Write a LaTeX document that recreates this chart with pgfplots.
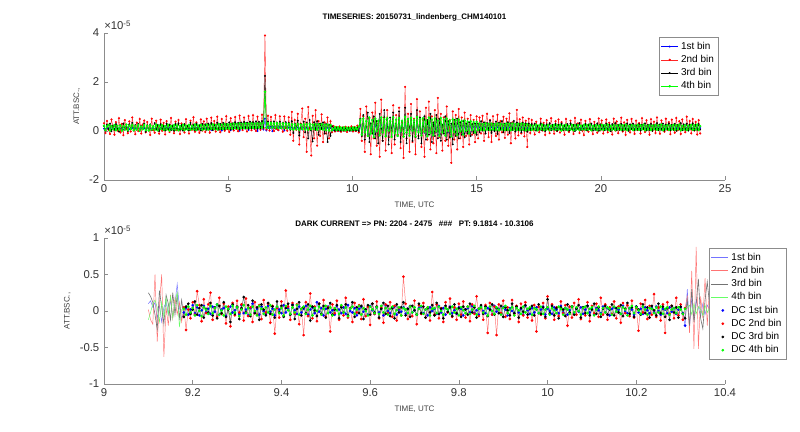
\documentclass[border=0pt]{standalone}
\usepackage{fontspec}
\setmainfont{Liberation Sans}
\usepackage{pgfplots}
\usepackage{pgfplotstable}
\pgfplotsset{compat=1.18}

% time series, values in units of 1e-5
\pgfplotstableread{
t b1 b2 b3 b4
0.00 0.10 0.32 0.20 0.22
0.06 0.07 -0.08 0.03 0.04
0.12 0.13 0.41 0.26 0.18
0.18 0.09 0.05 0.08 0.25
0.24 0.11 -0.12 0.30 0.02
0.30 0.06 0.47 -0.01 0.20
0.36 0.12 0.18 0.22 0.07
0.42 0.08 -0.15 0.05 0.24
0.48 0.14 0.36 0.28 0.03
0.54 0.07 0.02 0.10 0.21
0.60 0.11 0.52 -0.02 0.06
0.66 0.09 -0.06 0.25 0.23
0.72 0.13 0.29 0.04 0.01
0.78 0.06 -0.17 0.31 0.19
0.84 0.12 0.44 0.07 0.05
0.90 0.08 0.11 0.19 0.26
0.96 0.14 -0.09 0.00 0.04
1.02 0.07 0.39 0.27 0.22
1.08 0.10 -0.02 0.09 0.08
1.14 0.13 0.55 0.33 0.25
1.20 0.05 0.07 0.02 0.03
1.26 0.12 -0.13 0.24 0.20
1.32 0.09 0.34 0.06 0.06
1.38 0.11 0.00 0.29 0.24
1.44 0.06 0.49 0.01 0.02
1.50 0.13 -0.10 0.21 0.18
1.56 0.08 0.26 0.08 0.07
1.62 0.12 0.43 0.30 0.25
1.68 0.07 -0.05 -0.03 0.04
1.74 0.14 0.37 0.23 0.21
1.80 0.09 0.09 0.05 0.02
1.86 0.11 -0.16 0.27 0.23
1.92 0.06 0.50 0.03 0.06
1.98 0.13 0.04 0.18 0.19
2.04 0.08 -0.07 0.32 0.05
2.10 0.12 0.42 0.06 0.26
2.16 0.10 0.15 0.25 0.03
2.22 0.05 -0.11 0.00 0.22
2.28 0.13 0.46 0.28 0.08
2.34 0.08 0.01 0.09 0.24
2.40 0.11 0.33 0.20 0.04
2.46 0.07 -0.14 0.02 0.20
2.52 0.14 0.40 0.30 0.06
2.58 0.09 0.06 0.07 0.25
2.64 0.12 -0.04 0.26 0.02
2.70 0.06 0.53 0.04 0.21
2.76 0.13 0.12 0.22 0.07
2.82 0.08 -0.09 0.01 0.24
2.88 0.11 0.38 0.29 0.05
2.94 0.10 0.03 0.10 0.23
3.00 0.07 0.45 0.31 0.03
3.06 0.14 -0.12 0.05 0.20
3.12 0.09 0.31 0.24 0.08
3.18 0.12 0.08 0.02 0.26
3.24 0.06 -0.06 0.28 0.04
3.30 0.13 0.48 0.08 0.22
3.36 0.08 0.14 0.21 0.06
3.42 0.11 -0.10 0.03 0.25
3.48 0.10 0.42 0.33 0.05
3.54 0.07 0.05 0.09 0.21
3.60 0.14 0.56 0.26 0.07
3.66 0.09 -0.03 0.04 0.26
3.72 0.12 0.35 0.30 0.04
3.78 0.06 0.10 0.06 0.23
3.84 0.13 -0.08 0.23 0.08
3.90 0.08 0.47 0.02 0.25
3.96 0.12 0.02 0.29 0.05
4.02 0.10 0.39 0.08 0.22
4.08 0.07 -0.04 0.27 0.07
4.14 0.14 0.50 0.05 0.26
4.20 0.09 0.13 0.30 0.06
4.26 0.12 -0.07 0.08 0.24
4.32 0.04 0.54 0.32 0.09
4.38 0.13 0.06 0.04 0.27
4.44 0.10 0.41 0.25 0.08
4.50 0.15 -0.02 0.10 0.25
4.56 0.08 0.58 0.34 0.06
4.62 0.13 0.10 0.06 0.28
4.68 0.11 -0.05 0.29 0.09
4.74 0.02 0.49 0.09 0.26
4.80 0.15 0.17 0.33 0.08
4.86 0.10 0.01 0.07 0.29
4.92 0.14 0.60 0.28 0.10
4.98 0.09 0.08 0.11 0.27
5.04 0.15 -0.04 0.35 0.09
5.10 0.03 0.52 0.06 0.28
5.16 0.14 0.14 0.31 0.10
5.22 0.11 0.02 0.09 0.30
5.28 0.16 0.57 0.36 0.11
5.34 0.09 0.09 0.12 0.28
5.40 0.15 -0.01 0.33 0.10
5.46 0.01 0.63 0.08 0.31
5.52 0.16 0.19 0.35 0.12
5.58 0.12 0.04 0.10 0.29
5.64 0.17 0.55 0.37 0.11
5.70 0.10 0.12 0.13 0.31
5.76 0.16 -0.02 0.34 0.12
5.82 0.04 0.61 0.09 0.30
5.88 0.17 0.16 0.38 0.13
5.94 0.12 0.03 0.12 0.32
6.00 0.18 0.64 0.36 0.12
6.06 0.08 0.10 0.14 0.30
6.12 0.17 0.00 0.39 0.13
6.18 0.00 0.58 0.10 0.32
6.24 0.18 0.20 0.37 0.14
6.30 0.13 0.05 0.13 0.31
6.36 0.18 0.66 0.40 0.13
6.42 0.06 0.11 0.15 0.33
6.48 0.50 3.90 2.25 1.60
6.54 0.02 0.06 0.12 0.14
6.60 0.17 0.62 0.38 0.32
6.66 0.10 0.02 0.11 0.12
6.72 0.18 0.57 0.36 0.33
6.78 -0.01 0.14 0.14 0.13
6.84 0.17 0.00 0.39 0.31
6.90 0.12 0.65 0.10 0.14
6.96 0.16 0.09 0.35 0.32
7.02 0.03 0.04 0.13 0.12
7.08 0.17 0.60 0.38 0.30
7.14 0.11 0.15 0.11 0.13
7.20 0.16 -0.03 0.34 0.31
7.26 0.02 0.59 0.09 0.12
7.32 0.16 0.12 0.36 0.30
7.38 0.10 0.01 0.12 0.11
7.44 0.15 0.56 0.33 0.29
7.50 0.06 -0.15 0.05 0.08
7.56 0.15 0.78 0.40 0.28
7.62 0.08 -0.40 -0.08 0.06
7.68 0.14 0.45 0.30 0.27
7.74 0.07 0.05 0.12 0.07
7.80 0.15 0.70 0.42 0.29
7.86 0.09 -0.55 -0.18 0.05
7.92 0.14 0.30 0.28 0.26
7.98 0.06 0.92 0.10 0.08
8.04 0.15 -0.25 0.38 0.28
8.10 0.08 0.50 -0.05 0.06
8.16 0.14 -0.85 0.33 0.27
8.22 0.07 0.98 -0.30 0.05
8.28 0.15 0.10 0.45 0.29
8.34 0.09 -1.00 0.02 0.07
8.40 0.14 0.62 -0.42 0.26
8.46 0.06 -0.30 0.36 0.08
8.52 0.15 0.85 0.05 0.28
8.58 0.08 -0.60 0.40 0.05
8.64 0.14 0.40 -0.15 0.27
8.70 0.07 -0.20 0.30 0.07
8.76 0.15 0.68 0.08 0.28
8.82 0.09 -0.45 0.35 0.06
8.88 0.13 0.35 -0.10 0.25
8.94 0.06 -0.10 0.28 0.04
9.00 0.14 0.55 -0.45 0.26
9.06 0.05 -0.30 0.25 0.02
9.12 0.13 0.40 -0.20 0.24
9.18 0.06 -0.05 0.20 0.03
9.24 0.04 0.20 0.12 0.08
9.30 0.08 -0.02 0.02 0.16
9.36 0.03 0.16 0.13 0.04
9.42 0.07 0.00 0.03 0.15
9.48 0.02 0.18 0.11 0.05
9.54 0.06 -0.03 0.01 0.14
9.60 0.03 0.14 0.12 0.04
9.66 0.07 0.01 0.02 0.15
9.72 0.02 0.17 0.10 0.03
9.78 0.06 -0.04 0.03 0.14
9.84 0.03 0.15 0.12 0.05
9.90 0.07 0.02 0.01 0.13
9.96 0.02 0.19 0.11 0.04
10.02 0.06 -0.02 0.03 0.15
10.08 0.03 0.16 0.13 0.05
10.14 0.07 0.00 0.02 0.14
10.20 0.04 0.22 0.14 0.06
10.26 0.08 -0.06 0.00 0.18
10.32 0.25 0.90 0.50 0.45
10.38 -0.10 -0.40 -0.20 -0.15
10.44 0.30 0.60 0.65 0.50
10.50 -0.05 -0.85 -0.35 -0.05
10.56 0.20 1.00 0.20 0.40
10.62 -0.12 -0.20 0.75 -0.20
10.68 0.32 0.50 -0.45 0.55
10.74 0.00 -0.95 0.30 -0.10
10.80 0.25 0.75 -0.10 0.45
10.86 -0.15 -0.30 0.60 -0.25
10.92 0.28 1.15 -0.30 0.50
10.98 -0.05 -0.60 0.40 0.00
11.04 0.22 0.30 -0.50 0.42
11.10 -0.10 -1.05 0.70 -0.18
11.16 0.33 1.28 0.10 0.55
11.22 0.02 -0.40 -0.40 -0.05
11.28 0.26 0.55 0.85 0.48
11.34 -0.13 -0.80 -0.20 -0.22
11.40 0.30 0.85 0.45 0.52
11.46 -0.08 -0.25 -0.55 0.02
11.52 0.24 0.40 0.55 0.40
11.58 -0.16 -0.90 0.00 -0.24
11.64 0.31 1.05 0.75 0.56
11.70 0.00 -0.55 -0.35 -0.08
11.76 0.27 0.65 0.30 0.46
11.82 -0.12 -0.15 -0.20 -0.20
11.88 0.29 0.95 0.80 0.53
11.94 -0.06 -0.70 -0.45 0.00
12.00 0.23 0.35 0.40 0.41
12.06 -0.14 -1.10 -0.10 -0.23
12.12 0.34 1.80 0.95 0.58
12.18 0.01 -0.30 -0.50 -0.06
12.24 0.28 0.70 0.50 0.49
12.30 -0.10 -0.85 0.05 -0.19
12.36 0.30 1.10 0.70 0.54
12.42 -0.04 -0.45 -0.40 0.01
12.48 0.25 0.50 0.35 0.44
12.54 -0.15 -0.95 -0.25 -0.22
12.60 0.32 1.30 0.85 0.57
12.66 0.02 -0.20 -0.30 -0.04
12.72 0.26 0.80 0.55 0.47
12.78 -0.11 -0.65 -0.50 -0.18
12.84 0.29 0.45 0.20 0.52
12.90 -0.07 -1.05 0.60 -0.02
12.96 0.24 0.95 -0.35 0.43
13.02 -0.13 -0.35 0.45 -0.21
13.08 0.31 1.20 -0.15 0.55
13.14 0.00 -0.75 0.70 -0.07
13.20 0.27 0.60 -0.45 0.46
13.26 -0.09 -0.50 0.35 -0.17
13.32 0.28 0.85 -0.20 0.51
13.38 -0.05 -0.90 0.65 0.00
13.44 0.23 1.35 -0.30 0.42
13.50 -0.14 -0.25 0.50 -0.20
13.56 0.30 0.70 -0.40 0.53
13.62 0.01 -0.80 0.25 -0.05
13.68 0.25 0.55 -0.10 0.45
13.74 -0.12 -0.40 0.60 -0.19
13.80 0.28 1.00 -0.35 0.50
13.86 -0.06 -0.60 0.40 0.01
13.92 0.22 0.45 -0.25 0.41
13.98 -0.15 -1.30 0.30 -0.22
14.04 0.27 0.80 -0.55 0.47
14.10 0.00 -0.35 0.45 -0.04
14.16 0.24 0.65 -0.20 0.43
14.22 -0.10 -0.75 0.50 -0.16
14.28 0.26 0.90 -0.30 0.46
14.34 -0.04 -0.30 0.35 0.00
14.40 0.21 0.55 -0.15 0.40
14.46 -0.11 -0.65 0.40 -0.14
14.52 0.23 0.75 -0.25 0.42
14.58 -0.03 -0.20 0.30 0.02
14.64 0.20 0.50 -0.10 0.38
14.70 -0.08 -0.55 0.35 -0.10
14.76 0.22 0.65 -0.20 0.39
14.82 0.00 -0.15 0.28 0.04
14.88 0.19 0.45 -0.08 0.36
14.94 -0.05 -0.45 0.30 -0.06
15.00 0.20 0.60 -0.15 0.37
15.06 0.05 -0.30 0.30 0.04
15.12 0.16 0.55 -0.05 0.30
15.18 0.07 -0.10 0.40 0.05
15.24 0.15 0.62 0.02 0.28
15.30 0.04 -0.40 0.35 0.03
15.36 0.17 0.30 -0.10 0.31
15.42 0.08 0.70 0.32 0.06
15.48 0.14 -0.25 0.05 0.29
15.54 0.06 0.45 0.42 0.04
15.60 0.16 -0.45 -0.08 0.30
15.66 0.05 0.60 0.30 0.06
15.72 0.15 0.05 0.00 0.28
15.78 0.07 -0.20 0.38 0.05
15.84 0.16 0.66 -0.12 0.30
15.90 0.04 -0.35 0.33 0.03
15.96 0.15 0.40 0.06 0.29
16.02 0.08 -0.05 0.40 0.06
16.08 0.14 0.58 -0.05 0.27
16.14 0.05 -0.28 0.30 0.04
16.20 0.16 0.50 0.03 0.30
16.26 0.07 -0.15 0.36 0.05
16.32 0.15 0.72 -0.08 0.29
16.38 0.04 -0.50 0.32 0.03
16.44 0.16 0.35 0.05 0.30
16.50 0.08 0.10 0.41 0.06
16.56 0.14 -0.30 -0.02 0.28
16.62 0.06 0.86 0.35 0.05
16.68 0.15 -0.18 0.04 0.29
16.74 0.05 0.48 0.30 0.04
16.80 0.16 -0.10 -0.05 0.30
16.86 0.07 0.55 0.33 0.06
16.92 0.15 -0.22 0.02 0.28
16.98 0.04 0.42 0.31 0.03
17.04 0.14 -0.65 -0.03 0.27
17.10 0.06 0.50 0.30 0.05
17.16 0.13 -0.08 0.05 0.24
17.22 0.08 0.45 0.28 0.04
17.28 0.12 0.06 0.08 0.22
17.34 0.07 -0.14 0.30 0.06
17.40 0.14 0.38 0.02 0.25
17.46 0.09 0.12 0.22 0.03
17.52 0.11 -0.05 0.06 0.23
17.58 0.06 0.50 0.31 0.07
17.64 0.13 0.02 0.04 0.26
17.70 0.08 0.33 0.25 0.04
17.76 0.12 -0.16 0.00 0.21
17.82 0.10 0.44 0.27 0.06
17.88 0.07 0.08 0.09 0.24
17.94 0.14 -0.09 0.32 0.03
18.00 0.09 0.52 0.03 0.22
18.06 0.12 0.15 0.24 0.07
18.12 0.06 -0.11 0.06 0.25
18.18 0.13 0.40 0.29 0.05
18.24 0.08 0.00 0.01 0.23
18.30 0.11 0.47 0.26 0.06
18.36 0.10 -0.06 0.08 0.24
18.42 0.07 0.36 0.30 0.02
18.48 0.14 0.10 0.04 0.22
18.54 0.09 -0.15 0.23 0.07
18.60 0.12 0.49 0.05 0.26
18.66 0.06 0.04 0.28 0.04
18.72 0.13 -0.04 0.02 0.21
18.78 0.08 0.42 0.31 0.06
18.84 0.11 0.13 0.07 0.25
18.90 0.10 -0.12 0.25 0.03
18.96 0.07 0.53 0.00 0.23
19.02 0.14 0.07 0.27 0.06
19.08 0.09 0.31 0.09 0.24
19.14 0.12 -0.08 0.32 0.04
19.20 0.06 0.46 0.04 0.22
19.26 0.13 0.01 0.22 0.07
19.32 0.08 -0.17 0.06 0.25
19.38 0.11 0.41 0.29 0.05
19.44 0.10 0.11 0.03 0.23
19.50 0.07 -0.03 0.26 0.06
19.56 0.14 0.48 0.08 0.26
19.62 0.09 0.05 0.30 0.03
19.68 0.12 -0.13 0.02 0.21
19.74 0.06 0.37 0.24 0.07
19.80 0.13 0.14 0.05 0.24
19.86 0.08 -0.07 0.31 0.04
19.92 0.11 0.51 0.01 0.22
19.98 0.10 0.03 0.27 0.06
20.04 0.07 0.43 0.07 0.25
20.10 0.14 -0.10 0.23 0.05
20.16 0.09 0.18 0.04 0.23
20.22 0.12 0.47 0.30 0.07
20.28 0.06 -0.05 0.06 0.26
20.34 0.13 0.34 0.26 0.03
20.40 0.08 0.09 0.00 0.21
20.46 0.11 -0.14 0.28 0.06
20.52 0.10 0.50 0.09 0.24
20.58 0.07 0.02 0.32 0.04
20.64 0.14 0.39 0.03 0.22
20.70 0.09 -0.09 0.25 0.07
20.76 0.12 0.12 0.05 0.25
20.82 0.06 0.54 0.29 0.05
20.88 0.13 -0.02 0.02 0.23
20.94 0.08 0.35 0.24 0.06
21.00 0.11 -0.16 0.07 0.26
21.06 0.10 0.45 0.31 0.03
21.12 0.07 0.06 0.01 0.21
21.18 0.14 -0.06 0.27 0.07
21.24 0.09 0.49 0.08 0.24
21.30 0.12 0.10 0.30 0.04
21.36 0.06 -0.12 0.04 0.22
21.42 0.13 0.42 0.23 0.06
21.48 0.08 0.04 0.06 0.25
21.54 0.11 0.32 0.28 0.05
21.60 0.10 -0.10 0.02 0.23
21.66 0.07 0.52 0.26 0.07
21.72 0.14 0.08 0.09 0.26
21.78 0.09 -0.04 0.31 0.03
21.84 0.12 0.44 0.03 0.21
21.90 0.06 0.13 0.25 0.06
21.96 0.13 -0.15 0.05 0.24
22.02 0.08 0.48 0.29 0.04
22.08 0.11 0.01 0.01 0.22
22.14 0.10 0.38 0.24 0.07
22.20 0.07 -0.08 0.07 0.25
22.26 0.14 0.55 0.32 0.05
22.32 0.09 0.07 0.04 0.23
22.38 0.12 -0.11 0.27 0.06
22.44 0.06 0.43 0.06 0.26
22.50 0.13 0.11 0.30 0.03
22.56 0.08 -0.03 0.02 0.21
22.62 0.11 0.50 0.26 0.07
22.68 0.10 0.05 0.08 0.24
22.74 0.07 0.36 0.31 0.04
22.80 0.14 -0.13 0.03 0.22
22.86 0.09 0.46 0.25 0.06
22.92 0.12 0.09 0.05 0.25
22.98 0.06 -0.07 0.29 0.05
23.04 0.13 0.53 0.01 0.23
23.10 0.08 0.03 0.24 0.07
23.16 0.11 0.40 0.07 0.26
23.22 0.10 -0.12 0.32 0.03
23.28 0.07 0.47 0.04 0.21
23.34 0.14 0.14 0.27 0.06
23.40 0.09 -0.05 0.06 0.24
23.46 0.12 0.58 0.30 0.04
23.52 0.06 0.06 0.02 0.22
23.58 0.13 0.41 0.26 0.07
23.64 0.08 -0.09 0.08 0.25
23.70 0.11 0.49 0.31 0.05
23.76 0.10 0.02 0.03 0.23
23.82 0.07 0.37 0.25 0.06
23.88 0.14 -0.14 0.05 0.26
23.94 0.09 0.44 0.28 0.04
24.00 0.12 -0.10 0.06 0.20
}\tsdata

% dark current window, units of 1e-5
\pgfplotstableread{
t b1 b2 b3 b4
9.100 0.10 0.02 0.25 -0.12
9.105 0.14 -0.12 0.20 -0.02
9.110 0.05 -0.18 0.12 0.10
9.115 0.12 0.50 -0.05 0.15
9.120 -0.10 -0.42 -0.25 0.05
9.125 0.08 0.10 0.28 -0.15
9.130 -0.15 0.50 0.05 0.12
9.135 0.05 -0.63 -0.18 -0.08
9.140 0.12 0.05 0.22 0.18
9.145 -0.05 -0.20 0.10 -0.05
9.150 0.15 0.22 -0.12 0.20
9.155 -0.08 -0.10 0.25 -0.10
9.160 0.10 0.18 -0.05 0.12
9.165 0.37 -0.05 0.22 0.25
9.170 0.05 0.12 -0.10 -0.22
9.175 -0.10 -0.15 0.15 0.02
9.180 -0.02 0.05 -0.08 0.03
9.185 0.04 -0.26 0.06 -0.05
9.190 -0.05 0.02 0.10 0.06
9.195 0.02 -0.10 -0.04 -0.02
9.200 0.08 0.12 0.02 0.04
9.205 -0.03 -0.05 0.13 -0.06
9.210 0.05 0.27 -0.05 0.08
9.215 -0.06 0.08 0.04 0.00
9.220 0.01 -0.14 0.08 -0.07
9.225 0.07 0.16 -0.09 0.05
9.230 -0.02 -0.03 0.03 0.02
9.235 0.03 0.09 -0.02 -0.04
9.240 -0.04 0.25 0.11 0.07
9.245 0.06 -0.12 -0.06 -0.03
9.250 -0.01 0.04 0.05 0.04
9.255 0.09 -0.08 -0.10 0.09
9.260 -0.05 0.18 0.07 -0.05
9.265 0.02 -0.04 -0.03 0.01
9.270 0.04 0.10 0.12 -0.06
9.275 -0.07 -0.17 -0.08 0.06
9.280 0.03 0.06 0.02 0.03
9.285 0.06 -0.21 -0.15 -0.04
9.290 -0.02 0.11 0.09 0.07
9.295 0.01 -0.06 -0.04 -0.02
9.300 0.05 0.14 0.06 0.05
9.305 -0.04 -0.02 -0.11 -0.07
9.310 0.08 0.09 0.04 0.02
9.315 -0.03 -0.13 0.19 0.08
9.320 0.02 0.17 -0.02 -0.03
9.325 -0.06 -0.07 0.08 0.04
9.330 0.04 0.05 -0.07 -0.05
9.335 0.10 -0.15 0.14 0.06
9.340 -0.02 0.12 -0.03 0.00
9.345 0.03 -0.05 0.05 -0.06
9.350 -0.05 0.08 -0.12 0.07
9.355 0.06 -0.11 0.09 0.03
9.360 0.00 0.15 0.02 -0.04
9.365 -0.04 -0.02 -0.06 0.05
9.370 0.07 0.10 0.11 -0.02
9.375 -0.01 -0.16 -0.04 0.08
9.380 0.03 0.07 0.06 -0.05
9.385 -0.06 -0.31 -0.09 0.02
9.390 0.05 0.04 0.13 0.06
9.395 0.02 -0.09 -0.02 -0.03
9.400 -0.03 0.13 0.07 0.04
9.405 0.08 -0.06 -0.08 -0.06
9.410 -0.02 0.28 0.04 0.07
9.415 0.04 0.06 0.10 0.01
9.420 -0.05 -0.12 -0.05 -0.04
9.425 0.09 0.11 0.08 0.05
9.430 0.01 -0.04 -0.11 -0.02
9.435 -0.04 0.09 0.03 0.08
9.440 0.06 -0.18 0.12 -0.05
9.445 -0.02 0.03 -0.06 0.03
9.450 0.03 -0.33 0.05 0.06
9.455 0.07 0.12 -0.03 -0.04
9.460 -0.05 -0.07 0.09 0.02
9.465 0.02 0.24 -0.13 0.07
9.470 0.05 -0.10 0.06 -0.06
9.475 -0.03 0.06 0.01 0.04
9.480 0.12 -0.14 -0.07 0.00
9.485 -0.01 0.10 0.10 0.06
9.490 0.04 -0.05 -0.04 -0.05
9.495 -0.06 0.15 0.07 0.03
9.500 0.03 -0.08 -0.09 0.07
9.505 0.06 0.05 0.04 -0.03
9.510 -0.02 -0.28 0.11 0.05
9.515 0.01 0.09 -0.05 -0.06
9.520 -0.05 -0.03 0.02 0.04
9.525 0.07 0.14 0.08 0.01
9.530 0.02 -0.12 -0.10 -0.04
9.535 -0.03 0.07 0.05 0.08
9.540 0.05 -0.06 -0.02 -0.02
9.545 -0.04 0.18 0.09 0.05
9.550 0.08 -0.09 -0.06 -0.07
9.555 0.00 0.04 0.03 0.03
9.560 -0.02 -0.15 0.12 0.06
9.565 0.04 0.11 -0.08 -0.04
9.570 -0.06 -0.02 0.05 0.02
9.575 0.03 0.08 -0.03 0.07
9.580 0.06 -0.11 0.07 -0.05
9.585 -0.01 0.16 -0.11 0.04
9.590 0.02 -0.07 0.02 0.00
9.595 -0.05 0.06 0.08 -0.06
9.600 0.07 -0.19 -0.05 0.06
9.605 0.01 0.10 0.10 0.02
9.610 -0.04 -0.04 -0.02 -0.03
9.615 0.05 0.13 0.06 0.05
9.620 -0.02 -0.10 -0.09 -0.04
9.625 0.03 0.05 0.03 0.07
9.630 -0.06 -0.16 0.11 -0.02
9.635 0.08 0.09 -0.04 0.04
9.640 0.00 -0.03 0.07 -0.05
9.645 -0.03 0.12 -0.07 0.03
9.650 0.04 -0.08 0.04 0.06
9.655 0.06 0.07 -0.10 -0.04
9.660 -0.05 -0.13 0.09 0.01
9.665 0.02 0.04 -0.02 0.05
9.670 -0.01 -0.06 0.05 -0.06
9.675 0.05 0.47 0.12 0.04
9.680 -0.04 0.10 -0.06 0.02
9.685 0.03 -0.11 0.03 -0.03
9.690 0.07 0.06 -0.08 0.06
9.695 -0.02 -0.07 0.07 -0.02
9.700 0.01 0.14 0.01 0.05
9.705 -0.05 -0.18 -0.05 -0.05
9.710 0.04 0.08 0.10 0.03
9.715 0.06 -0.04 -0.03 0.07
9.720 -0.03 0.11 0.06 -0.04
9.725 0.02 -0.09 -0.09 0.02
9.730 -0.06 0.05 0.04 0.05
9.735 0.05 -0.13 -0.02 -0.06
9.740 0.00 0.26 0.08 0.03
9.745 0.03 -0.05 -0.06 0.04
9.750 -0.04 0.09 0.11 -0.03
9.755 0.07 -0.10 -0.04 0.06
9.760 -0.02 0.04 0.03 0.00
9.765 0.04 -0.15 -0.10 -0.05
9.770 -0.05 0.12 0.07 0.04
9.775 0.02 -0.02 -0.01 0.02
9.780 0.06 0.17 0.05 -0.04
9.785 -0.03 -0.08 -0.07 0.06
9.790 0.01 0.05 0.09 -0.02
9.795 -0.04 -0.12 -0.03 0.03
9.800 0.05 0.10 0.04 -0.06
9.805 0.03 -0.05 -0.08 0.05
9.810 -0.06 0.13 0.06 0.01
9.815 0.02 -0.09 0.02 -0.03
9.820 0.04 0.06 -0.05 0.06
9.825 -0.02 -0.14 0.10 -0.04
9.830 0.07 0.09 -0.02 0.02
9.835 -0.03 -0.04 0.05 0.07
9.840 0.01 0.20 -0.09 -0.05
9.845 -0.05 -0.07 0.03 0.03
9.850 0.06 0.04 0.08 0.05
9.855 0.00 -0.12 -0.04 -0.02
9.860 -0.03 0.08 0.06 0.04
9.865 0.04 -0.30 -0.07 -0.06
9.870 0.02 0.11 0.02 0.06
9.875 -0.05 -0.05 0.09 0.00
9.880 0.07 0.06 -0.05 -0.04
9.885 -0.01 -0.33 0.04 0.05
9.890 0.03 0.09 -0.03 0.02
9.895 -0.04 -0.03 0.07 -0.05
9.900 0.05 0.14 -0.08 0.04
9.905 0.02 -0.08 0.05 0.07
9.910 -0.06 0.05 0.01 -0.03
9.915 0.04 -0.11 -0.06 0.02
9.920 0.00 0.15 0.10 0.05
9.925 -0.03 -0.04 -0.03 -0.06
9.930 0.06 0.07 0.06 0.04
9.935 -0.02 -0.15 -0.09 0.01
9.940 0.03 0.10 0.04 -0.04
9.945 -0.05 -0.06 -0.01 0.06
9.950 0.07 0.12 0.08 -0.02
9.955 0.01 -0.09 -0.05 0.03
9.960 -0.04 0.04 0.03 0.05
9.965 0.04 -0.13 0.07 -0.05
9.970 -0.02 0.08 -0.06 0.04
9.975 0.05 -0.28 0.02 0.02
9.980 -0.03 0.06 0.09 -0.03
9.985 0.02 -0.05 -0.04 0.06
9.990 0.06 0.11 0.05 -0.04
9.995 -0.05 -0.10 -0.08 0.02
10.000 0.03 0.20 0.16 0.05
10.005 0.00 -0.04 -0.03 -0.05
10.010 -0.04 0.09 0.07 0.04
10.015 0.05 -0.12 -0.06 0.01
10.020 0.02 0.05 0.04 -0.03
10.025 -0.03 -0.07 -0.10 0.06
10.030 0.07 0.13 0.05 0.03
10.035 -0.02 -0.03 0.02 -0.05
10.040 0.04 0.08 -0.07 0.04
10.045 -0.05 -0.20 0.09 0.02
10.050 0.01 0.06 -0.02 -0.04
10.055 0.06 -0.09 0.06 0.06
10.060 -0.03 0.11 -0.05 -0.02
10.065 0.03 -0.05 0.03 0.05
10.070 -0.01 0.16 0.08 0.00
10.075 0.05 -0.11 -0.09 -0.05
10.080 -0.04 0.04 0.05 0.04
10.085 0.02 -0.06 -0.03 0.06
10.090 0.07 0.12 0.07 -0.03
10.095 -0.02 -0.14 -0.06 0.03
10.100 0.03 0.07 0.02 0.05
10.105 -0.05 -0.03 0.10 -0.06
10.110 0.04 0.10 -0.04 0.02
10.115 0.01 -0.08 0.05 0.06
10.120 -0.03 0.18 -0.08 -0.04
10.125 0.06 -0.05 0.03 0.04
10.130 -0.02 0.09 0.07 -0.02
10.135 0.04 -0.12 -0.05 0.05
10.140 -0.06 0.05 0.02 0.03
10.145 0.03 -0.04 0.09 -0.05
10.150 0.05 0.13 -0.06 0.06
10.155 -0.01 -0.10 0.04 -0.01
10.160 0.02 0.06 -0.02 0.04
10.165 -0.04 -0.16 0.08 -0.04
10.170 0.07 0.11 -0.07 0.05
10.175 0.00 -0.03 0.03 0.02
10.180 -0.03 0.08 0.11 -0.06
10.185 0.04 -0.07 -0.04 0.04
10.190 0.02 0.14 0.05 0.07
10.195 -0.05 -0.09 -0.08 -0.03
10.200 0.06 0.04 0.06 0.05
10.205 -0.02 -0.27 0.02 0.01
10.210 0.03 0.10 -0.05 -0.04
10.215 -0.04 -0.02 0.09 0.06
10.220 0.05 0.15 -0.03 0.02
10.225 0.01 -0.11 0.05 -0.05
10.230 -0.03 0.07 -0.09 0.04
10.235 0.04 -0.05 0.07 0.03
10.240 -0.02 0.23 0.01 -0.03
10.245 0.06 -0.08 -0.06 0.05
10.250 0.00 0.05 0.10 -0.02
10.255 -0.05 -0.13 -0.03 0.06
10.260 0.03 0.09 0.06 -0.04
10.265 0.02 -0.30 -0.08 0.03
10.270 -0.03 0.12 0.04 0.05
10.275 0.05 -0.04 -0.12 -0.05
10.280 -0.01 0.07 0.07 0.02
10.285 0.04 -0.10 -0.02 0.04
10.290 -0.04 0.18 0.05 -0.03
10.295 0.02 -0.06 -0.09 0.05
10.300 0.05 0.09 0.06 0.02
10.305 -0.03 -0.12 -0.04 -0.04
10.310 -0.20 0.04 -0.10 0.03
10.315 0.30 0.20 0.15 0.05
10.320 -0.22 -0.30 -0.20 0.08
10.325 0.18 0.55 0.30 -0.05
10.330 -0.10 -0.52 -0.15 0.10
10.335 0.15 0.88 0.10 -0.04
10.340 0.05 -0.52 0.44 0.06
10.345 -0.08 0.20 -0.10 0.02
10.350 0.10 -0.10 -0.24 -0.06
10.355 -0.05 0.45 0.15 0.08
10.360 0.08 -0.20 0.40 -0.02
10.365 0.02 0.30 0.10 0.04
10.370 0.00 0.05 -0.05 0.00
}\dcdata

\pgfplotsset{
  matlab/.style={
    scale only axis, anchor=south west,
    axis x line=bottom, axis y line=left,
    axis line style={-, draw=black!45},
    tick align=inside, major tick length=3pt,
    tick style={black!45, line width=0.4pt},
    ticklabel style={font=\fontsize{8.5}{10}\selectfont, text=black!80},
    /pgf/number format/assume math mode=true,
    label style={font=\fontsize{6}{7}\selectfont, text=black!75},
    title style={font=\bfseries\fontsize{6}{7}\selectfont, yshift=-1pt},
    legend cell align=left,
    legend style={font=\fontsize{7.5}{8.5}\selectfont, draw=black!45,
      fill=white, inner sep=1.5pt, row sep=-1pt},
    xlabel={TIME, UTC}, ylabel={ATT.BSC.,},
    clip mode=individual,
  },
  dotline/.style={legend image code/.code={
    \draw[mark repeat=2, mark phase=2, ##1] plot coordinates {(0cm,0cm) (0.22cm,0cm) (0.44cm,0cm)};}},
  thinline/.style={legend image code/.code={
    \draw[##1] (0cm,0cm) -- (0.45cm,0cm);}},
}

\begin{document}
\begin{tikzpicture}
\useasboundingbox (0,0) rectangle (600pt,324pt);

\begin{axis}[matlab,
  at={(78pt,189pt)}, width=465.75pt, height=110.25pt,
  xmin=0, xmax=25, ymin=-2, ymax=4,
  xtick={0,5,10,15,20,25}, ytick={-2,0,2,4},
  title={TIMESERIES: 20150731\_lindenberg\_CHM140101},
  legend style={at={(0.99,0.973)}, anchor=north east},
]
  \addplot[blue, line width=0.3pt, mark=*, mark size=0.55pt, dotline] table[x=t, y=b1] {\tsdata};
  \addplot[red!85, line width=0.3pt, mark=*, mark size=0.65pt, mark options={red}, dotline] table[x=t, y=b2] {\tsdata};
  \addplot[black, line width=0.3pt, mark=*, mark size=0.55pt, dotline] table[x=t, y=b3] {\tsdata};
  \addplot[green, line width=0.5pt, mark=*, mark size=0.65pt, dotline] table[x=t, y=b4] {\tsdata};
  \legend{1st bin, 2nd bin, 3rd bin, 4th bin}
  \node[anchor=south west, inner sep=0pt, yshift=2pt, font=\fontsize{8.5}{10}\selectfont, text=black!80]
    at (rel axis cs:0,1) {×10\textsuperscript{-5}};
\end{axis}

\begin{axis}[matlab,
  at={(78pt,36pt)}, width=465.75pt, height=109.5pt,
  xmin=9, xmax=10.4, ymin=-1, ymax=1,
  xtick={9,9.2,9.4,9.6,9.8,10,10.2,10.4}, ytick={-1,-0.5,0,0.5,1},
  title={DARK CURRENT => PN: 2204 - 2475 \ \ \#\#\# \ \ PT: 9.1814 - 10.3106},
  legend style={at={(0.974,0.932)}, anchor=north west},
]
  \addplot[blue!55, line width=0.35pt, thinline] table[x=t, y=b1] {\dcdata};
  \addplot[red!55, line width=0.35pt, thinline] table[x=t, y=b2] {\dcdata};
  \addplot[black!55, line width=0.45pt, thinline] table[x=t, y=b3] {\dcdata};
  \addplot[green!60, line width=0.35pt, thinline] table[x=t, y=b4] {\dcdata};
  \addplot[blue, only marks, mark=*, mark size=0.8pt, restrict x to domain=9.178:10.312] table[x=t, y=b1] {\dcdata};
  \addplot[red, only marks, mark=*, mark size=0.8pt, restrict x to domain=9.178:10.312] table[x=t, y=b2] {\dcdata};
  \addplot[black, only marks, mark=*, mark size=0.8pt, restrict x to domain=9.178:10.312] table[x=t, y=b3] {\dcdata};
  \addplot[green, only marks, mark=*, mark size=0.8pt, restrict x to domain=9.178:10.312] table[x=t, y=b4] {\dcdata};
  \legend{1st bin, 2nd bin, 3rd bin, 4th bin, DC 1st bin, DC 2nd bin, DC 3rd bin, DC 4th bin}
  \node[anchor=south west, inner sep=0pt, yshift=2pt, font=\fontsize{8.5}{10}\selectfont, text=black!80]
    at (rel axis cs:0,1) {×10\textsuperscript{-5}};
\end{axis}
\end{tikzpicture}
\end{document}
